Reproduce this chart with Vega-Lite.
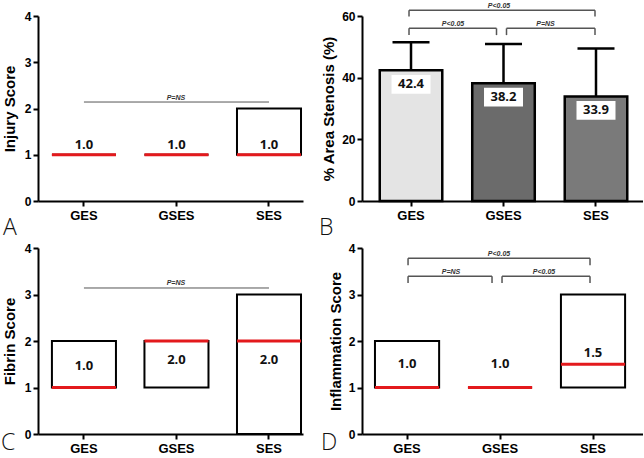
{
  "$schema": "https://vega.github.io/schema/vega-lite/v6.json",
  "padding": {"left": 1, "top": 1, "right": 0, "bottom": 8},
  "columns": 2,
  "spacing": {"row": 47, "column": 59},
  "bounds": "flush",
  "align": "each",
  "config": {
    "view": {"stroke": null},
    "font": "Liberation Sans",
    "axis": {"grid": false, "domainColor": "#000", "domainWidth": 2, "tickColor": "#000", "tickWidth": 2, "tickSize": 5,
      "labelFont": "Liberation Sans", "labelFontWeight": "bold", "labelFontSize": 13, "labelColor": "#000", "labelPadding": 2,
      "titleFont": "Liberation Sans", "titleFontWeight": "bold", "titleFontSize": 15, "titleColor": "#000", "titlePadding": 7},
    "axisX": {"labelAngle": 0, "labelPadding": 3},
    "axisY": {"labelFontSize": 12},
    "title": {"font": "Open Sans", "fontSize": 23, "fontWeight": 300, "color": "#111"}
  },
  "datasets": {
    "injury": [
      {"group": "GES", "q1": 1, "median": 1, "q3": 1},
      {"group": "GSES", "q1": 1, "median": 1, "q3": 1},
      {"group": "SES", "q1": 1, "median": 1, "q3": 2}
    ],
    "stenosis": [
      {"group": "GES", "mean": 42.4, "upper": 51.5},
      {"group": "GSES", "mean": 38.2, "upper": 50.9},
      {"group": "SES", "mean": 33.9, "upper": 49.5}
    ],
    "fibrin": [
      {"group": "GES", "q1": 1, "median": 1, "q3": 2},
      {"group": "GSES", "q1": 1, "median": 2, "q3": 2},
      {"group": "SES", "q1": 0, "median": 2, "q3": 3}
    ],
    "inflammation": [
      {"group": "GES", "q1": 1, "median": 1, "q3": 2},
      {"group": "GSES", "q1": 1, "median": 1, "q3": 1},
      {"group": "SES", "q1": 1, "median": 1.5, "q3": 3}
    ],
    "bracketsA": [{"from": "GES", "to": "SES", "level": 2.14, "label": "P=NS"}],
    "bracketsB": [
      {"from": "GES", "to": "SES", "level": 61.9, "leg": 59.8, "label": "P<0.05"},
      {"from": "GES", "to": "GSES", "level": 56.0, "leg": 53.8, "label": "P<0.05"},
      {"from": "GSES", "to": "SES", "level": 56.0, "leg": 53.8, "label": "P=NS"}
    ],
    "bracketsC": [{"from": "GES", "to": "SES", "level": 3.14, "label": "P=NS"}],
    "bracketsD": [
      {"from": "GES", "to": "SES", "level": 3.78, "leg": 3.63, "label": "P<0.05"},
      {"from": "GES", "to": "GSES", "level": 3.39, "leg": 3.25, "label": "P=NS"},
      {"from": "GSES", "to": "SES", "level": 3.39, "leg": 3.25, "label": "P<0.05"}
    ]
  },
  "concat": [
    {
      "width": 265, "height": 185,
      "title": {"text": "A", "orient": "bottom", "anchor": "start", "frame": "group", "dx": -35, "dy": -5, "offset": 0},
      "layer": [
        {
          "data": {"name": "injury"},
          "mark": {"type": "rect", "fill": "white", "fillOpacity": 0, "stroke": "black", "strokeWidth": 2},
          "encoding": {
            "x": {"field": "group", "type": "nominal", "scale": {"domain": ["GES", "GSES", "SES"], "paddingInner": 0.308, "paddingOuter": 0.086, "align": 0.875}, "axis": {"title": null}},
            "y": {"field": "q1", "type": "quantitative", "scale": {"domain": [0, 4], "nice": false}, "axis": {"title": "Injury Score", "values": [0, 1, 2, 3, 4], "format": "d"}},
            "y2": {"field": "q3"}
          }
        },
        {
          "data": {"name": "injury"},
          "mark": {"type": "rect", "fill": "white", "fillOpacity": 0, "stroke": "#e3191c", "strokeWidth": 3},
          "encoding": {
            "x": {"field": "group", "type": "nominal"},
            "y": {"field": "median", "type": "quantitative"},
            "y2": {"field": "median"}
          }
        },
        {
          "data": {"name": "injury"},
          "mark": {"type": "text", "font": "Open Sans", "fontWeight": "bold", "fontSize": 13, "color": "#111", "dy": -10},
          "encoding": {
            "x": {"field": "group", "type": "nominal"},
            "y": {"field": "median", "type": "quantitative"},
            "text": {"field": "median", "type": "quantitative", "format": ".1f"}
          }
        },
        {
          "data": {"name": "bracketsA"},
          "mark": {"type": "rule", "color": "#555", "strokeWidth": 1},
          "encoding": {
            "x": {"field": "from", "type": "nominal"},
            "x2": {"field": "to"},
            "y": {"field": "level", "type": "quantitative"}
          }
        },
        {
          "data": {"name": "bracketsA"},
          "mark": {"type": "text", "font": "Liberation Sans", "fontStyle": "italic", "fontWeight": "bold", "fontSize": 7, "color": "#333", "dy": -4.5, "dx": 92},
          "encoding": {
            "x": {"field": "from", "type": "nominal"},
            "y": {"field": "level", "type": "quantitative"},
            "text": {"field": "label"}
          }
        }
      ]
    },
    {
      "width": 281, "height": 185,
      "title": {"text": "B", "orient": "bottom", "anchor": "start", "frame": "group", "dx": -43, "dy": -5, "offset": 0},
      "layer": [
        {
          "data": {"name": "stenosis"},
          "mark": {"type": "rule", "color": "black", "strokeWidth": 2.5},
          "encoding": {
            "x": {"field": "group", "type": "nominal", "scale": {"domain": ["GES", "GSES", "SES"], "paddingInner": 0.324, "paddingOuter": 0.181, "align": 0.53}, "axis": {"title": null}},
            "y": {"field": "mean", "type": "quantitative", "scale": {"domain": [0, 60], "nice": false}, "axis": {"title": "% Area Stenosis (%)", "values": [0, 20, 40, 60], "format": "d", "titlePadding": 5}},
            "y2": {"field": "upper"}
          }
        },
        {
          "data": {"name": "stenosis"},
          "mark": {"type": "tick", "color": "black", "thickness": 2.5, "size": 37, "opacity": 1},
          "encoding": {
            "x": {"field": "group", "type": "nominal"},
            "y": {"field": "upper", "type": "quantitative"}
          }
        },
        {
          "data": {"name": "stenosis"},
          "mark": {"type": "bar", "stroke": "black", "strokeWidth": 2.5},
          "encoding": {
            "x": {"field": "group", "type": "nominal"},
            "y": {"field": "mean", "type": "quantitative"},
            "fill": {"field": "group", "type": "nominal", "scale": {"domain": ["GES", "GSES", "SES"], "range": ["#e4e4e4", "#6b6b6b", "#7a7a7a"]}, "legend": null}
          }
        },
        {
          "data": {"name": "stenosis"},
          "mark": {"type": "point", "shape": "M-1,-0.48L1,-0.48L1,0.48L-1,0.48Z", "filled": true, "fill": "white", "opacity": 1, "size": 1521, "yOffset": 14, "strokeWidth": 0},
          "encoding": {
            "x": {"field": "group", "type": "nominal"},
            "y": {"field": "mean", "type": "quantitative"}
          }
        },
        {
          "data": {"name": "stenosis"},
          "mark": {"type": "text", "font": "Open Sans", "fontWeight": "bold", "fontSize": 13, "color": "#111", "dy": 14},
          "encoding": {
            "x": {"field": "group", "type": "nominal"},
            "y": {"field": "mean", "type": "quantitative"},
            "text": {"field": "mean", "type": "quantitative", "format": ".1f"}
          }
        },
        {
          "data": {"name": "bracketsB"},
          "mark": {"type": "rule", "color": "#555", "strokeWidth": 1.5, "xOffset": {"expr": "datum.from === 'GSES' ? 3 : -2"}, "x2Offset": {"expr": "datum.to === 'GSES' ? -7 : -1"}},
          "encoding": {
            "x": {"field": "from", "type": "nominal"},
            "x2": {"field": "to"},
            "y": {"field": "level", "type": "quantitative"}
          }
        },
        {
          "data": {"name": "bracketsB"},
          "mark": {"type": "rule", "color": "#555", "strokeWidth": 1.5, "xOffset": {"expr": "datum.from === 'GSES' ? 3 : -2"}},
          "encoding": {
            "x": {"field": "from", "type": "nominal"},
            "y": {"field": "leg", "type": "quantitative"},
            "y2": {"field": "level"}
          }
        },
        {
          "data": {"name": "bracketsB"},
          "mark": {"type": "rule", "color": "#555", "strokeWidth": 1.5, "xOffset": {"expr": "datum.to === 'GSES' ? -7 : -1"}},
          "encoding": {
            "x": {"field": "to", "type": "nominal"},
            "y": {"field": "leg", "type": "quantitative"},
            "y2": {"field": "level"}
          }
        },
        {
          "data": {"name": "bracketsB"},
          "mark": {"type": "text", "font": "Liberation Sans", "fontStyle": "italic", "fontWeight": "bold", "fontSize": 7, "color": "#333", "dy": -4.5, "dx": {"expr": "datum.from === 'GES' && datum.to === 'SES' ? 88 : 42"}},
          "encoding": {
            "x": {"field": "from", "type": "nominal"},
            "y": {"field": "level", "type": "quantitative"},
            "text": {"field": "label"}
          }
        }
      ]
    },
    {
      "width": 265, "height": 186,
      "title": {"text": "C", "orient": "bottom", "anchor": "start", "frame": "group", "dx": -37, "dy": -23, "offset": 0},
      "layer": [
        {
          "data": {"name": "fibrin"},
          "mark": {"type": "rect", "fill": "white", "fillOpacity": 0, "stroke": "black", "strokeWidth": 2},
          "encoding": {
            "x": {"field": "group", "type": "nominal", "scale": {"domain": ["GES", "GSES", "SES"], "paddingInner": 0.308, "paddingOuter": 0.086, "align": 0.875}, "axis": {"title": null}},
            "y": {"field": "q1", "type": "quantitative", "scale": {"domain": [0, 4], "nice": false}, "axis": {"title": "Fibrin Score", "values": [0, 1, 2, 3, 4], "format": "d"}},
            "y2": {"field": "q3"}
          }
        },
        {
          "data": {"name": "fibrin"},
          "mark": {"type": "rect", "fill": "white", "fillOpacity": 0, "stroke": "#e3191c", "strokeWidth": 3},
          "encoding": {
            "x": {"field": "group", "type": "nominal"},
            "y": {"field": "median", "type": "quantitative"},
            "y2": {"field": "median"}
          }
        },
        {
          "data": {"name": "fibrin"},
          "mark": {"type": "text", "font": "Open Sans", "fontWeight": "bold", "fontSize": 13, "color": "#111", "dy": {"expr": "datum.median >= 2 ? 19 : -22"}},
          "encoding": {
            "x": {"field": "group", "type": "nominal"},
            "y": {"field": "median", "type": "quantitative"},
            "text": {"field": "median", "type": "quantitative", "format": ".1f"}
          }
        },
        {
          "data": {"name": "bracketsC"},
          "mark": {"type": "rule", "color": "#555", "strokeWidth": 1},
          "encoding": {
            "x": {"field": "from", "type": "nominal"},
            "x2": {"field": "to"},
            "y": {"field": "level", "type": "quantitative"}
          }
        },
        {
          "data": {"name": "bracketsC"},
          "mark": {"type": "text", "font": "Liberation Sans", "fontStyle": "italic", "fontWeight": "bold", "fontSize": 7, "color": "#333", "dy": -4.5, "dx": 92},
          "encoding": {
            "x": {"field": "from", "type": "nominal"},
            "y": {"field": "level", "type": "quantitative"},
            "text": {"field": "label"}
          }
        }
      ]
    },
    {
      "width": 281, "height": 186,
      "title": {"text": "D", "orient": "bottom", "anchor": "start", "frame": "group", "dx": -41, "dy": -23, "offset": 0},
      "layer": [
        {
          "data": {"name": "inflammation"},
          "mark": {"type": "rect", "fill": "white", "fillOpacity": 0, "stroke": "black", "strokeWidth": 2},
          "encoding": {
            "x": {"field": "group", "type": "nominal", "scale": {"domain": ["GES", "GSES", "SES"], "paddingInner": 0.31, "paddingOuter": 0.166, "align": 0.42}, "axis": {"title": null}},
            "y": {"field": "q1", "type": "quantitative", "scale": {"domain": [0, 4], "nice": false}, "axis": {"title": "Inflammation Score", "values": [0, 1, 2, 3, 4], "format": "d", "titlePadding": 5}},
            "y2": {"field": "q3"}
          }
        },
        {
          "data": {"name": "inflammation"},
          "mark": {"type": "rect", "fill": "white", "fillOpacity": 0, "stroke": "#e3191c", "strokeWidth": 3},
          "encoding": {
            "x": {"field": "group", "type": "nominal"},
            "y": {"field": "median", "type": "quantitative"},
            "y2": {"field": "median"}
          }
        },
        {
          "data": {"name": "inflammation"},
          "mark": {"type": "text", "font": "Open Sans", "fontWeight": "bold", "fontSize": 13, "color": "#111", "dy": {"expr": "datum.median > 1 ? -11 : -24"}},
          "encoding": {
            "x": {"field": "group", "type": "nominal"},
            "y": {"field": "median", "type": "quantitative"},
            "text": {"field": "median", "type": "quantitative", "format": ".1f"}
          }
        },
        {
          "data": {"name": "bracketsD"},
          "mark": {"type": "rule", "color": "#555", "strokeWidth": 1.5, "xOffset": {"expr": "datum.from === 'GSES' ? 2 : 1"}, "x2Offset": {"expr": "datum.to === 'GSES' ? -8 : -3"}},
          "encoding": {
            "x": {"field": "from", "type": "nominal"},
            "x2": {"field": "to"},
            "y": {"field": "level", "type": "quantitative"}
          }
        },
        {
          "data": {"name": "bracketsD"},
          "mark": {"type": "rule", "color": "#555", "strokeWidth": 1.5, "xOffset": {"expr": "datum.from === 'GSES' ? 2 : 1"}},
          "encoding": {
            "x": {"field": "from", "type": "nominal"},
            "y": {"field": "leg", "type": "quantitative"},
            "y2": {"field": "level"}
          }
        },
        {
          "data": {"name": "bracketsD"},
          "mark": {"type": "rule", "color": "#555", "strokeWidth": 1.5, "xOffset": {"expr": "datum.to === 'GSES' ? -8 : -3"}},
          "encoding": {
            "x": {"field": "to", "type": "nominal"},
            "y": {"field": "leg", "type": "quantitative"},
            "y2": {"field": "level"}
          }
        },
        {
          "data": {"name": "bracketsD"},
          "mark": {"type": "text", "font": "Liberation Sans", "fontStyle": "italic", "fontWeight": "bold", "fontSize": 7, "color": "#333", "dy": -4.5, "dx": {"expr": "datum.from === 'GES' && datum.to === 'SES' ? 92 : 44"}},
          "encoding": {
            "x": {"field": "from", "type": "nominal"},
            "y": {"field": "level", "type": "quantitative"},
            "text": {"field": "label"}
          }
        }
      ]
    }
  ]
}
